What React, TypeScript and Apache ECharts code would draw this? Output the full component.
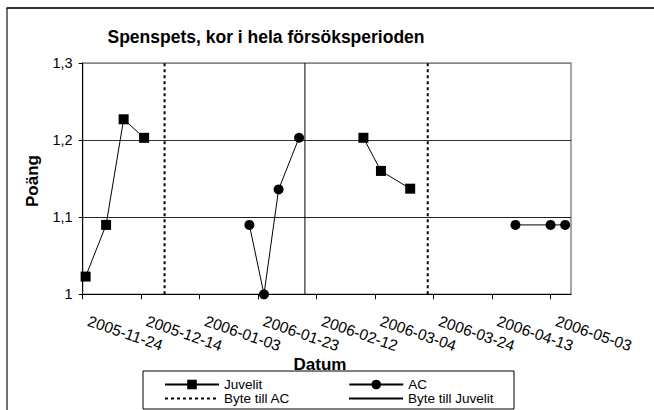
import React, { useEffect, useRef } from "react";
import * as echarts from "echarts";

const startDate = "2005-11-24";
const endDate = "2006-05-10";
const xTickLabels = [
  "2005-11-24", "2005-12-14", "2006-01-03", "2006-01-23", "2006-02-12",
  "2006-03-04", "2006-03-24", "2006-04-13", "2006-05-03",
];
const yTickLabels = ["1", "1,1", "1,2", "1,3"];

const juvelitDates = [
  ["2005-11-25", "2005-12-02", "2005-12-08", "2005-12-15"],
  ["2006-02-28", "2006-03-06", "2006-03-16"],
];
const juvelitValues = [
  [1.023, 1.09, 1.227, 1.203],
  [1.203, 1.16, 1.137],
];
const acDates = [
  ["2006-01-20", "2006-01-25", "2006-01-30", "2006-02-06"],
  ["2006-04-21", "2006-05-03", "2006-05-08"],
];
const acValues = [
  [1.09, 1.0, 1.136, 1.203],
  [1.09, 1.09, 1.09],
];
const bytetillACDates = ["2005-12-22", "2006-03-22"];
const bytetillJuvelitDates = ["2006-02-08"];

const DAY = 86400000;
const day = (d: string) => (Date.parse(d) - Date.parse(startDate)) / DAY;

function segData(dates: string[][], values: number[][]) {
  const out: any[] = [];
  dates.forEach((seg, i) => {
    if (i > 0) out.push(["-", "-"]);
    seg.forEach((d, j) => out.push([day(d), values[i][j]]));
  });
  return out;
}
function vlineData(dates: string[]) {
  const out: any[] = [];
  dates.forEach((d, i) => {
    if (i > 0) out.push(["-", "-"]);
    out.push([day(d), 1.0]);
    out.push([day(d), 1.3]);
  });
  return out;
}

const W = 680;
const H = 410;

export default function App() {
  const ref = useRef<HTMLDivElement>(null);
  useEffect(() => {
    const chart = echarts.init(ref.current!, null, { renderer: "svg" });
    const font = "'Liberation Sans', Arial, sans-serif";
    const legendText = { fontSize: 13.5, color: "#000", fontFamily: font };
    chart.setOption({
      animation: false,
      backgroundColor: "#fff",
      textStyle: { fontFamily: font, color: "#000" },
      grid: {
        left: 82.7, right: W - 571, top: 63, bottom: H - 294.3,
        show: true, borderColor: "#888", borderWidth: 1.5,
        containLabel: false,
      },
      xAxis: {
        type: "value",
        min: 0,
        max: day(endDate),
        interval: 20,
        axisLine: { show: true, lineStyle: { color: "#000", width: 1 } },
        axisTick: { show: true, length: 5, lineStyle: { color: "#000" } },
        axisLabel: {
          rotate: -19,
          margin: 24,
          fontSize: 15.5,
          color: "#000",
          fontFamily: font,
          padding: [0, 0, 0, 6],
          showMaxLabel: false,
          formatter: (v: number) => (v % 20 === 0 ? xTickLabels[Math.round(v / 20)] ?? "" : ""),
        },
        splitLine: { show: false },
      },
      yAxis: {
        type: "value",
        min: 1,
        max: 1.3,
        interval: 0.1,
        axisLine: { show: true, lineStyle: { color: "#000", width: 1 } },
        axisTick: { show: true, length: 4, lineStyle: { color: "#000" } },
        axisLabel: {
          margin: 10,
          fontSize: 14.5,
          color: "#000",
          fontFamily: font,
          formatter: (v: number) => yTickLabels[Math.round((v - 1) * 10)] ?? "",
        },
        splitLine: { show: true, lineStyle: { color: ["#000", "#222", "#333", "#888"], width: 1 } },
      },
      legend: [
        {
          data: ["Juvelit", "AC"],
          left: 164, top: 377.5, padding: 0,
          itemWidth: 54, itemHeight: 12, itemGap: 86,
          textStyle: legendText,
        },
        {
          data: ["Byte till AC", "Byte till Juvelit"],
          left: 164, top: 391.5, padding: 0,
          itemWidth: 54, itemHeight: 12, itemGap: 58,
          textStyle: legendText,
        },
      ],
      graphic: [
        {
          type: "line", z: -10, silent: true,
          shape: { x1: 6.5, y1: 8, x2: W, y2: 8 },
          style: { stroke: "#333", lineWidth: 2 },
        },
        {
          type: "line", z: -10, silent: true,
          shape: { x1: 7, y1: 8, x2: 7, y2: H },
          style: { stroke: "#111", lineWidth: 1.2 },
        },
        {
          type: "rect", z: -5, silent: true,
          shape: { x: 143, y: 371, width: 371, height: 38 },
          style: { fill: "#fff", stroke: "#000", lineWidth: 1 },
        },
        {
          type: "text", x: 266, y: 37,
          style: {
            text: "Spenspets, kor i hela försöksperioden",
            fontSize: 17.5, fontWeight: "bold", fontFamily: font, fill: "#000",
            textAlign: "center", textVerticalAlign: "middle",
          },
        },
        {
          type: "text", x: 320, y: 364,
          style: {
            text: "Datum",
            fontSize: 17, fontWeight: "bold", fontFamily: font, fill: "#000",
            textAlign: "center", textVerticalAlign: "middle",
          },
        },
        {
          type: "text", x: 32, y: 181, rotation: Math.PI / 2,
          style: {
            text: "Poäng",
            fontSize: 17, fontWeight: "bold", fontFamily: font, fill: "#000",
            textAlign: "center", textVerticalAlign: "middle",
          },
        },
      ],
      series: [
        {
          name: "Byte till AC",
          type: "line",
          data: vlineData(bytetillACDates),
          symbol: "none",
          lineStyle: { color: "#000", width: 2, type: [3, 3] },
          itemStyle: { color: "rgba(0,0,0,0)", borderWidth: 0 },
          z: 2,
        },
        {
          name: "Byte till Juvelit",
          type: "line",
          data: vlineData(bytetillJuvelitDates),
          symbol: "none",
          lineStyle: { color: "#000", width: 1 },
          itemStyle: { color: "rgba(0,0,0,0)", borderWidth: 0 },
          z: 2,
        },
        {
          name: "Juvelit",
          type: "line",
          data: segData(juvelitDates, juvelitValues),
          symbol: "rect",
          symbolSize: 10,
          connectNulls: false,
          clip: false,
          lineStyle: { color: "#000", width: 1 },
          itemStyle: { color: "#000" },
          z: 3,
        },
        {
          name: "AC",
          type: "line",
          data: segData(acDates, acValues),
          symbol: "circle",
          symbolSize: 10,
          connectNulls: false,
          clip: false,
          lineStyle: { color: "#000", width: 1 },
          itemStyle: { color: "#000" },
          z: 3,
        },
      ],
    });
    return () => chart.dispose();
  }, []);
  return (
    <div
      ref={ref}
      style={{ position: "fixed", left: 0, top: 0, width: W, height: H, background: "#fff" }}
    />
  );
}
